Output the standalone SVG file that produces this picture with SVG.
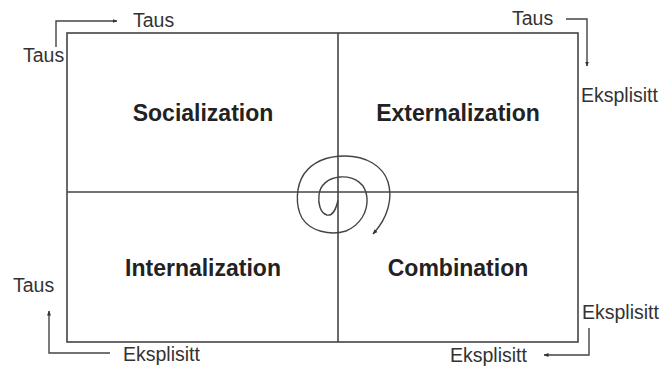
<svg xmlns="http://www.w3.org/2000/svg" width="663" height="367" viewBox="0 0 663 367">
  <style>
    .frame { fill: none; stroke: #444; stroke-width: 1.6; }
    .conn { fill: none; stroke: #444; stroke-width: 1.4; }
    .quad { font-family: "Liberation Sans", Arial, sans-serif; font-weight: bold; font-size: 23px; fill: #222; text-anchor: middle; }
    .lbl { font-family: "Liberation Sans", Arial, sans-serif; font-size: 19.5px; fill: #333; }
  </style>
  <defs>
    <marker id="arrow" viewBox="0 0 10 10" refX="9" refY="5" markerWidth="5" markerHeight="5" orient="auto" markerUnits="userSpaceOnUse">
      <path d="M0,1 L10,5 L0,9 Z" fill="#333"/>
    </marker>
  </defs>
  <rect width="663" height="367" fill="#fff"/>

  <!-- 2x2 matrix frame -->
  <g id="matrix">
    <rect class="frame" x="67" y="33" width="511" height="309"/>
    <line class="frame" x1="338" y1="33" x2="338" y2="342"/>
    <line class="frame" x1="67" y1="192" x2="578" y2="192"/>
  </g>

  <g id="socialization"><text class="quad" x="203" y="121">Socialization</text></g>
  <g id="externalization"><text class="quad" x="458" y="121">Externalization</text></g>
  <g id="internalization"><text class="quad" x="203" y="276">Internalization</text></g>
  <g id="combination"><text class="quad" x="458" y="276">Combination</text></g>

  <!-- corner labels -->
  <g id="tl-labels">
    <text class="lbl" x="133" y="27">Taus</text>
    <text class="lbl" x="23" y="62">Taus</text>
  </g>
  <g id="tr-labels">
    <text class="lbl" x="512" y="25">Taus</text>
    <text class="lbl" x="581" y="102">Eksplisitt</text>
  </g>
  <g id="bl-labels">
    <text class="lbl" x="13" y="292">Taus</text>
    <text class="lbl" x="123" y="361">Eksplisitt</text>
  </g>
  <g id="br-labels">
    <text class="lbl" x="582" y="319">Eksplisitt</text>
    <text class="lbl" x="450" y="362">Eksplisitt</text>
  </g>

  <!-- connectors -->
  <g id="connectors">
    <path class="conn" d="M56,47 V21 H117" marker-end="url(#arrow)"/>
    <path class="conn" d="M566,19 H587 V66" marker-end="url(#arrow)"/>
    <path class="conn" d="M589,328 V355 H544" marker-end="url(#arrow)"/>
    <path class="conn" d="M110,353 H49 V311" marker-end="url(#arrow)"/>
    <!-- knowledge spiral -->
    <path class="conn" d="M338,200 C336,210 332,216 327,215 C320,213 318,203 319,195 C320,185 328,178 340,177 C355,176 366,184 367,198 C368,212 360,225 346,231 C330,236 310,231 302,218 C295,205 296,186 304,174 C314,160 330,156 345,156 C366,156 383,166 388,182 C393,198 388,218 373,234" marker-end="url(#arrow)"/>
  </g>
</svg>
